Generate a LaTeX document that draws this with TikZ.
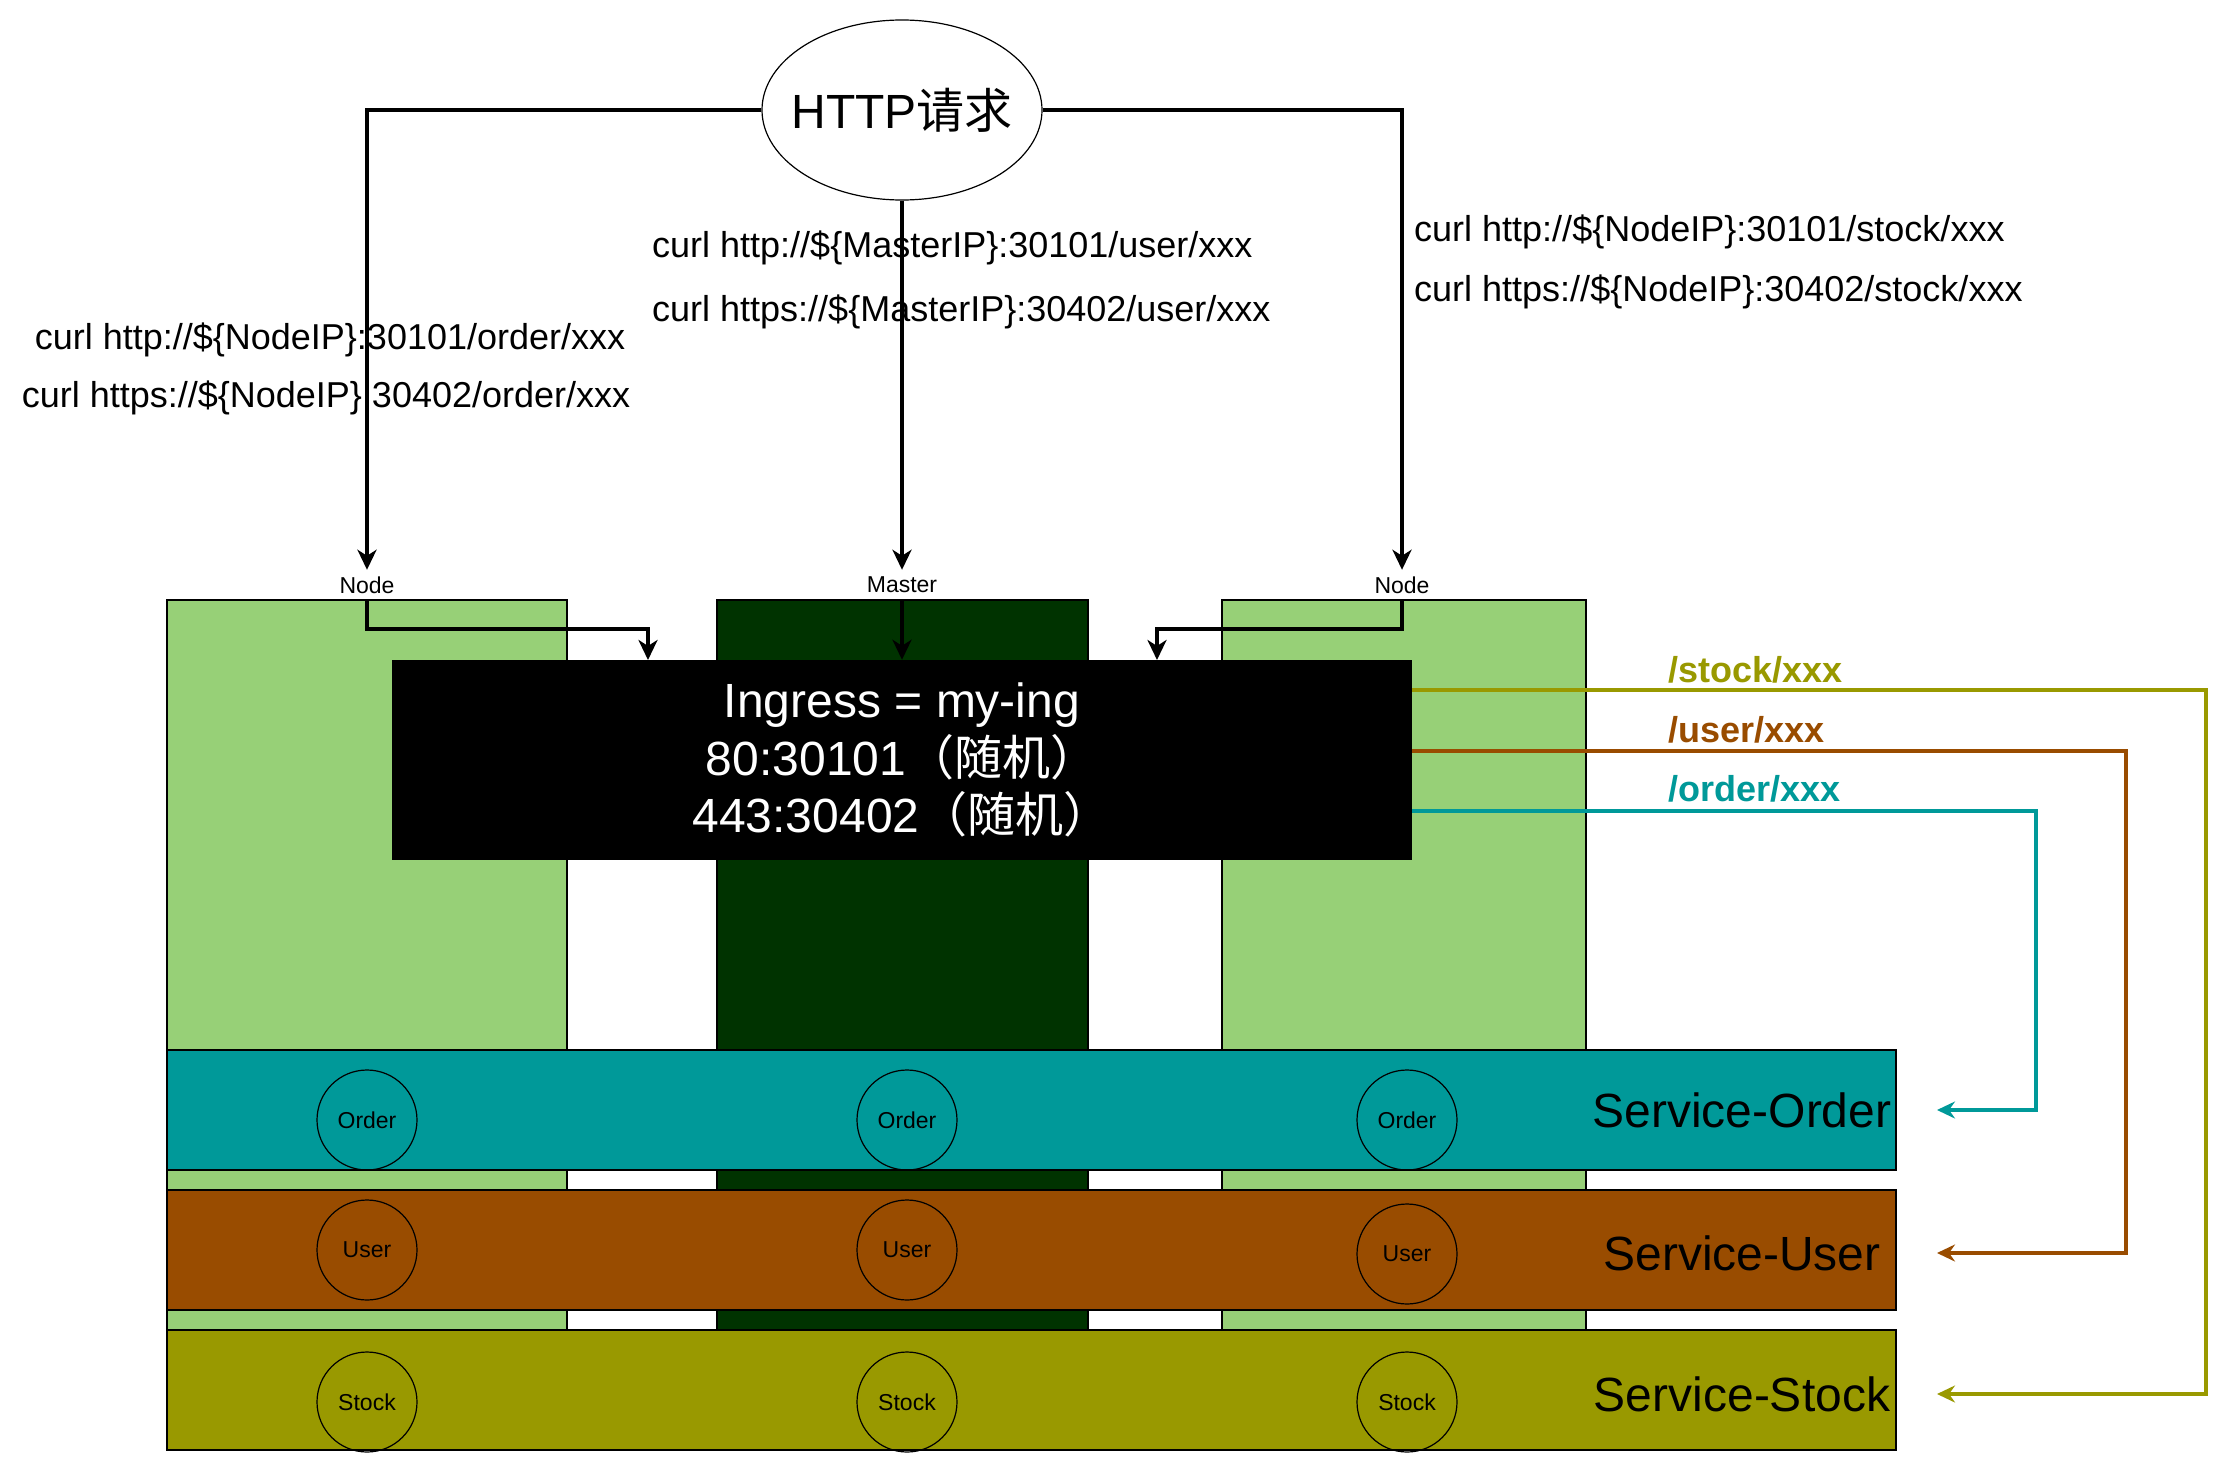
\documentclass[tikz,border=0pt]{standalone}
\usepackage{fontspec}
\setmainfont{Liberation Sans}
\newfontfamily\cjk{Noto Sans CJK SC}
\usetikzlibrary{arrows.meta,shapes.geometric}
\definecolor{lgreen}{HTML}{97D077}
\definecolor{dgreen}{HTML}{003300}
\definecolor{cOrder}{HTML}{009999}
\definecolor{cUser}{HTML}{994C00}
\definecolor{cStock}{HTML}{999900}
\begin{document}
\begin{tikzpicture}[x=1pt,y=-1pt,
  arr/.style={line width=4pt,-{Stealth[length=20pt,width=19pt,inset=6pt]}},
  carr/.style={line width=3.5pt,-{Stealth[length=18pt,width=17pt,inset=6pt]}},
  rectbox/.style={draw=black,line width=1.2pt,inner sep=0pt},
  small/.style={font=\fontsize{23}{27}\selectfont},
  curl/.style={font=\fontsize{36}{43}\selectfont,inner sep=0pt},
  big/.style={font=\fontsize{48}{57.6}\selectfont},
  pathlbl/.style={font=\bfseries\fontsize{36}{43}\selectfont,inner sep=0pt,anchor=west},
  pod/.style={circle,draw=black,line width=1.2pt,minimum size=100pt,inner sep=0pt,small},
  hostlbl/.style={small,minimum height=30pt,inner sep=0pt}
]
\useasboundingbox (0,0) rectangle (2239,1472);
\fill[white] (0,0) rectangle (2239,1472);

% hosts
\node[rectbox,fill=lgreen,minimum width=400pt,minimum height=730pt] (nL) at (367,965) {};
\node[rectbox,fill=dgreen,minimum width=371pt,minimum height=730pt] (nM) at (902.5,965) {};
\node[rectbox,fill=lgreen,minimum width=364pt,minimum height=730pt] (nR) at (1404,965) {};

% ingress
\node[fill=black,minimum width=1020pt,minimum height=200pt,inner sep=0pt] (ing) at (902,760) {};
\node[big,text=white,align=center] (ingtxt) at (902,760) {Ingress = my-ing\\80:30101{\cjk（随机）}\\443:30402{\cjk（随机）}};

% services
\node[rectbox,fill=cOrder,minimum width=1729pt,minimum height=120pt] (sO) at (1031.5,1110) {};
\node[rectbox,fill=cUser,minimum width=1729pt,minimum height=120pt] (sU) at (1031.5,1250) {};
\node[rectbox,fill=cStock,minimum width=1729pt,minimum height=120pt] (sS) at (1031.5,1390) {};

\node[big] (sOl) at (1742,1110) {Service-Order};
\node[big] (sUl) at (1742,1253) {Service-User};
\node[big] (sSl) at (1742,1394) {Service-Stock};

% pods
\node[pod] (o1) at (367,1120) {Order};
\node[pod] (o2) at (907,1120) {Order};
\node[pod] (o3) at (1407,1120) {Order};
\node[pod] (u1) at (367,1250) {User};
\node[pod] (u2) at (907,1250) {User};
\node[pod] (u3) at (1407,1254) {User};
\node[pod] (k1) at (367,1402) {Stock};
\node[pod] (k2) at (907,1402) {Stock};
\node[pod] (k3) at (1407,1402) {Stock};

% request
\node[ellipse,draw=black,line width=1.2pt,minimum width=280pt,minimum height=180pt,inner sep=0pt,
      label={[big]center:HTTP{\cjk 请求}}] (http) at (902,110) {};

% host labels
\node[hostlbl] (lnode) at (367,585) {Node};
\node[hostlbl] (mnode) at (902,585) {Master};
\node[hostlbl] (rnode) at (1402,585) {Node};

% curl labels
\node[curl] (cl1) at (330,340) {curl http://\$\{NodeIP\}:30101/order/xxx};
\node[curl] (cl2) at (326,398) {curl https://\$\{NodeIP\}:30402/order/xxx};
\node[curl,anchor=west] (cm1) at (652,248) {curl http://\$\{MasterIP\}:30101/user/xxx};
\node[curl,anchor=west] (cm2) at (652,312) {curl https://\$\{MasterIP\}:30402/user/xxx};
\node[curl,anchor=west] (cr1) at (1414,232) {curl http://\$\{NodeIP\}:30101/stock/xxx};
\node[curl,anchor=west] (cr2) at (1414,292) {curl https://\$\{NodeIP\}:30402/stock/xxx};

% path labels
\node[pathlbl,text=cStock] (pS) at (1668,670) {/stock/xxx};
\node[pathlbl,text=cUser] (pU) at (1668,730) {/user/xxx};
\node[pathlbl,text=cOrder] (pO) at (1668,789) {/order/xxx};

% connectors from request
\draw[arr] (http.west) -| (lnode.north);
\draw[arr] (http.south) -- (mnode.north);
\draw[arr] (http.east) -| (rnode.north);

\coordinate (inL) at (648,660);
\coordinate (inR) at (1157,660);
\draw[arr] (lnode.south) -- ++(0,29) -| (inL);
\draw[arr] (mnode.south) -- (mnode.south |- ing.north);
\draw[arr] (rnode.south) -- ++(0,29) -| (inR);

% routing
\coordinate (tO) at (1937,1110);
\coordinate (tU) at (1937,1253);
\coordinate (tS) at (1937,1394);
\draw[carr,draw=cStock] (ing.east |- 0,690) -- (2206,690) |- (tS);
\draw[carr,draw=cUser] (ing.east |- 0,751) -- (2126,751) |- (tU);
\draw[carr,draw=cOrder] (ing.east |- 0,811) -- (2036,811) |- (tO);
\end{tikzpicture}
\end{document}
